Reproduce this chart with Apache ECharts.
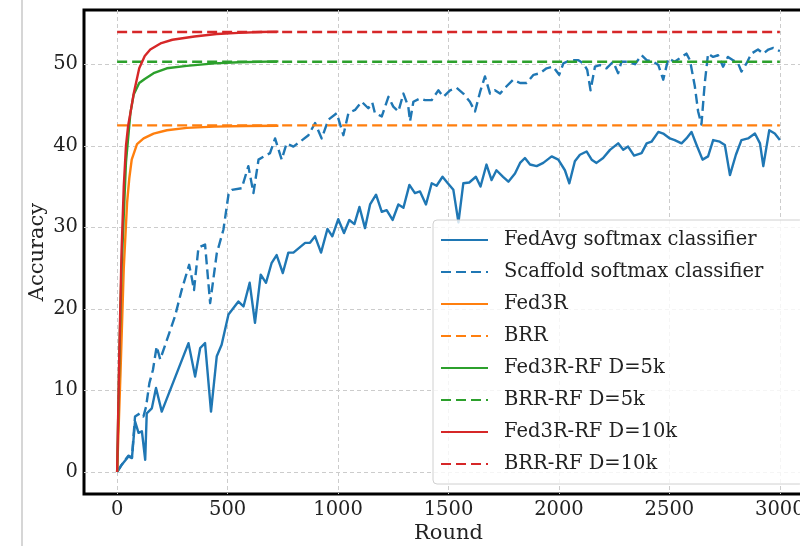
<!DOCTYPE html>
<html>
<head>
<meta charset="utf-8">
<script src="https://cdn.jsdelivr.net/npm/echarts@6/dist/echarts.min.js"></script>
<style>
  html, body { margin: 0; padding: 0; background: #fff; }
  #chart { width: 800px; height: 546px; }
</style>
</head>
<body>
<div id="chart"></div>
<script>
// tick values
var xTicks = [0, 500, 1000, 1500, 2000, 2500, 3000];
var yTicks = [0, 10, 20, 30, 40, 50];

// FedAvg softmax classifier: [round, accuracy]
var fedAvg = [
    [0, 0], [21, 0.9], [51, 1.9], [67, 1.7], [81, 6.2], [97, 4.8], [112, 5.0], [127, 1.5],
    [134, 7.2], [157, 7.8], [176, 10.3], [202, 7.4], [323, 15.8], [353, 11.7], [376, 15.2],
    [398, 15.8], [425, 7.4], [451, 14.2], [473, 15.6], [504, 19.3], [549, 20.9], [572, 20.3],
    [600, 23.2], [624, 18.3], [650, 24.2], [674, 23.2], [699, 25.6], [722, 26.6], [750, 24.4],
    [775, 26.9], [798, 26.9], [851, 28.1], [873, 28.1], [896, 28.9], [923, 26.9], [952, 29.8],
    [974, 28.9], [1001, 31.0], [1027, 29.3], [1051, 30.9], [1074, 30.4], [1097, 32.5],
    [1122, 29.9], [1145, 32.8], [1172, 34.0], [1198, 31.9], [1220, 32.1], [1247, 30.9],
    [1273, 32.8], [1296, 32.4], [1323, 35.2], [1348, 34.2], [1371, 34.4], [1398, 32.8],
    [1424, 35.4], [1446, 35.1], [1473, 36.2], [1494, 35.5], [1522, 34.6], [1545, 30.6],
    [1567, 35.4], [1594, 35.5], [1624, 36.2], [1645, 35.0], [1672, 37.7], [1695, 35.8],
    [1717, 37.0], [1747, 36.2], [1771, 35.6], [1801, 36.6], [1824, 37.9], [1846, 38.5],
    [1869, 37.7], [1899, 37.5], [1929, 37.9], [1967, 38.7], [1997, 38.3], [2027, 37.0],
    [2047, 35.4], [2072, 38.1], [2095, 38.9], [2125, 39.3], [2148, 38.3], [2170, 37.9],
    [2200, 38.5], [2231, 39.5], [2268, 40.3], [2291, 39.5], [2313, 39.9], [2340, 38.8],
    [2374, 39.1], [2397, 40.3], [2419, 40.5], [2450, 41.7], [2472, 41.5], [2502, 40.9],
    [2524, 40.7], [2555, 40.3], [2577, 40.9], [2600, 41.7], [2623, 40.1], [2650, 38.3],
    [2675, 38.7], [2698, 40.7], [2728, 40.5], [2751, 40.1], [2774, 36.4], [2801, 38.9],
    [2826, 40.7], [2856, 40.9], [2887, 41.5], [2910, 40.3], [2925, 37.5], [2952, 41.9],
    [2977, 41.5], [3000, 40.7]
];

// Scaffold softmax classifier
var scaffold = [
    [0, 0], [21, 0.9], [51, 2.0], [67, 1.8], [81, 6.8], [104, 7.2], [119, 6.8], [131, 8.0],
    [146, 10.9], [162, 12.5], [179, 15.4], [195, 13.8], [262, 19.1], [292, 22.3], [326, 25.4],
    [338, 23.8], [348, 22.3], [368, 27.5], [398, 27.9], [421, 20.7], [451, 26.8], [481, 29.7],
    [504, 34.0], [519, 34.6], [564, 34.8], [594, 37.5], [617, 34.2], [640, 38.3], [665, 38.7],
    [692, 39.1], [715, 40.9], [745, 38.3], [767, 40.3], [798, 39.9], [828, 40.5], [866, 41.3],
    [896, 42.8], [926, 40.9], [956, 43.2], [994, 44.0], [1024, 41.3], [1047, 44.0], [1077, 44.4],
    [1107, 45.4], [1137, 44.6], [1155, 45.3], [1167, 44.0], [1198, 43.6], [1228, 46.0],
    [1250, 44.8], [1273, 44.2], [1296, 46.4], [1318, 44.8], [1326, 43.0], [1341, 45.4],
    [1371, 45.8], [1394, 45.6], [1424, 45.6], [1454, 46.8], [1477, 46.0], [1507, 46.8],
    [1537, 47.1], [1567, 46.4], [1597, 45.4], [1620, 44.2], [1643, 46.6], [1665, 48.5],
    [1688, 46.4], [1710, 46.8], [1733, 46.4], [1763, 47.3], [1793, 48.1], [1824, 47.7],
    [1854, 47.7], [1885, 48.7], [1914, 48.9], [1944, 49.5], [1974, 49.7], [2001, 48.7],
    [2020, 50.1], [2050, 50.5], [2088, 50.5], [2110, 50.1], [2128, 49.3], [2143, 46.8],
    [2163, 49.7], [2186, 49.9], [2215, 49.5], [2245, 50.3], [2268, 48.9], [2283, 50.3],
    [2313, 50.3], [2344, 50.0], [2374, 51.1], [2397, 50.5], [2427, 50.3], [2450, 49.9],
    [2472, 48.1], [2495, 50.7], [2524, 50.3], [2555, 50.9], [2577, 51.3], [2593, 50.5],
    [2615, 47.3], [2630, 44.2], [2645, 42.6], [2660, 47.7], [2675, 51.3], [2698, 50.9],
    [2720, 51.1], [2743, 49.7], [2765, 50.9], [2788, 50.5], [2811, 50.1], [2826, 49.1],
    [2849, 50.1], [2871, 51.3], [2901, 51.8], [2925, 51.3], [2948, 51.8], [2970, 52.0],
    [3000, 51.6]
];

// Fed3R curves
var fed3r = [
    [0, 0], [15, 12], [30, 25], [45, 33], [55, 36], [66, 38.3], [90, 40.2], [120, 40.9],
    [165, 41.5], [225, 41.9], [315, 42.2], [440, 42.35], [580, 42.42], [730, 42.45]
];
var fed3rRf5k = [
    [0, 0], [10, 14], [20, 25], [40, 38], [60, 44], [75, 46.3], [100, 47.7], [125, 48.2],
    [165, 48.9], [225, 49.5], [315, 49.8], [440, 50.1], [550, 50.25], [730, 50.35]
];
var fed3rRf10k = [
    [0, 0], [10, 15], [20, 27], [30, 35], [40, 40], [50, 42.5], [60, 44], [75, 46.4],
    [100, 49.5], [125, 51], [150, 51.8], [200, 52.6], [250, 53], [350, 53.4], [450, 53.7],
    [550, 53.85], [650, 53.95], [730, 54]
];

// BRR closed-form levels
var brrLevel = 42.5;
var brrRf5kLevel = 50.3;
var brrRf10kLevel = 53.95;
var roundSpan = [0, 3000];

var names = [
    'FedAvg softmax classifier', 'Scaffold softmax classifier', 'Fed3R', 'BRR',
    'Fed3R-RF D=5k', 'BRR-RF D=5k', 'Fed3R-RF D=10k', 'BRR-RF D=10k'
];
var colors = ['#1f77b4', '#1f77b4', '#ff7f0e', '#ff7f0e', '#2ca02c', '#2ca02c', '#d62728', '#d62728'];

var FONT = '"DejaVu Serif", serif';

function flat(level) {
    return roundSpan.map(function (r) { return [r, level]; });
}

var seriesData = [fedAvg, scaffold, fed3r, flat(brrLevel), fed3rRf5k, flat(brrRf5kLevel), fed3rRf10k, flat(brrRf10kLevel)];

var series = seriesData.map(function (d, i) {
    return {
        name: names[i],
        type: 'line',
        data: d,
        symbol: 'none',
        animation: false,
        lineStyle: {
            color: colors[i],
            width: 2.4,
            type: i % 2 === 1 ? [10, 5] : 'solid',
            join: 'round'
        },
        itemStyle: { color: colors[i] }
    };
});

var chart = echarts.init(document.getElementById('chart'));

var gridLine = { show: true, lineStyle: { color: '#cccccc', width: 1, type: [4, 3] } };
var plainNum = function (v) { return String(v); };

chart.setOption({
    backgroundColor: '#fff',
    animation: false,
    graphic: [{
        type: 'line',
        shape: { x1: 22, y1: 0, x2: 22, y2: 546 },
        style: { stroke: '#d6d6d6', lineWidth: 2 },
        silent: true
    }],
    grid: {
        left: 84, top: 10, width: 729, height: 484,
        show: true, borderColor: '#000', borderWidth: 3,
        containLabel: false,
        outerBoundsMode: 'none'
    },
    xAxis: {
        type: 'value',
        min: -150, max: 3150,
        name: 'Round', nameLocation: 'middle', nameGap: 29,
        nameMoveOverlap: false,
        nameTextStyle: { fontFamily: FONT, fontSize: 21, color: '#222' },
        axisLine: { show: false },
        axisTick: { show: false, customValues: xTicks },
        axisLabel: { customValues: xTicks, formatter: plainNum, fontFamily: FONT, fontSize: 19.5, color: '#222', margin: 6 },
        splitLine: gridLine
    },
    yAxis: {
        type: 'value',
        min: -2.7, max: 56.65,
        name: 'Accuracy', nameLocation: 'middle', nameGap: 36,
        nameMoveOverlap: false,
        nameTextStyle: { fontFamily: FONT, fontSize: 21, color: '#222' },
        axisLine: { show: false },
        axisTick: { show: false, customValues: yTicks },
        axisLabel: { customValues: yTicks, formatter: plainNum, fontFamily: FONT, fontSize: 19.5, color: '#222', margin: 6 },
        splitLine: gridLine
    },
    legend: {
        data: names,
        orient: 'vertical',
        left: 433, top: 220,
        padding: [10, 40, 10, 7],
        itemWidth: 47, itemHeight: 18, itemGap: 12,
        itemStyle: { opacity: 0 },
        backgroundColor: 'rgba(255,255,255,0.8)',
        borderColor: '#d0d0d0', borderWidth: 1, borderRadius: 4,
        textStyle: { fontFamily: FONT, fontSize: 19.5, color: '#222', lineHeight: 18, padding: [0, 0, 0, 11] }
    },
    series: series
});
</script>
</body>
</html>
